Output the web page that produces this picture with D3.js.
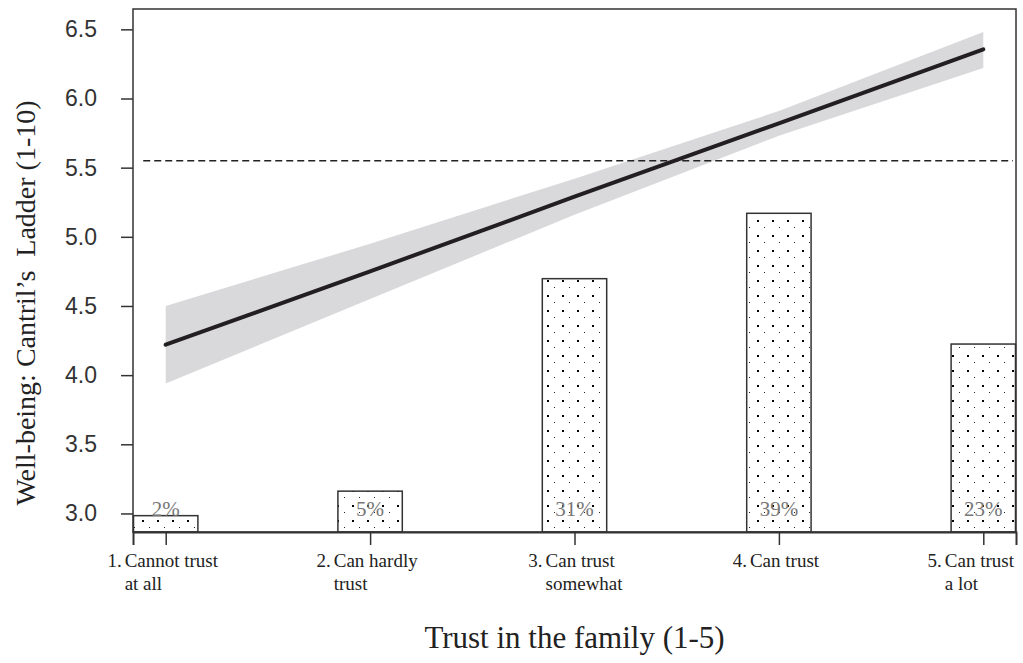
<!DOCTYPE html>
<html>
<head>
<meta charset="utf-8">
<script src="https://cdn.jsdelivr.net/npm/d3@7"></script>
<style>
  html, body { margin: 0; padding: 0; background: #fff; }
  svg { display: block; }
  .serif { font-family: "Liberation Serif", "Times New Roman", serif; }
  .sans { font-family: "Liberation Sans", Arial, sans-serif; }
</style>
</head>
<body>
<svg id="chart" width="1023" height="663"></svg>
<script>
// Trust categories (x axis)
const catX = [1, 2, 3, 4, 5];
const catNum = ["1.", "2.", "3.", "4.", "5."];
const catLine1 = ["Cannot trust", "Can hardly", "Can trust", "Can trust", "Can trust"];
const catLine2 = ["at all", "trust", "somewhat", "", "a lot"];

// Share of respondents in each category (%)
const shares = [2, 5, 31, 39, 23];

// Predicted well-being with confidence band
const fitValues = [4.22, 4.75, 5.29, 5.82, 6.355];
const ciLower = [3.94, 4.55, 5.16, 5.73, 6.22];
const ciUpper = [4.50, 4.95, 5.42, 5.91, 6.48];

// Overall mean (dashed reference line)
const refLevel = 5.55;

// Y axis ticks
const yTicks = [3.0, 3.5, 4.0, 4.5, 5.0, 5.5, 6.0, 6.5];

const W = 1023, H = 663;
const margin = { top: 9, right: 7, bottom: 131, left: 133 };
const iw = W - margin.left - margin.right;
const ih = H - margin.top - margin.bottom;

const svg = d3.select("#chart");

// Dotted fill for the distribution bars
const defs = svg.append("defs");
const pat = defs.append("pattern")
  .attr("id", "dots")
  .attr("patternUnits", "userSpaceOnUse")
  .attr("width", 15).attr("height", 15)
  .attr("x", 9).attr("y", 1);
pat.append("rect").attr("width", 15).attr("height", 15).attr("fill", "#fff");
pat.append("rect").attr("x", 0).attr("y", 0).attr("width", 2).attr("height", 2).attr("fill", "#000");
pat.append("rect").attr("x", 7).attr("y", 7).attr("width", 1).attr("height", 1).attr("fill", "#222");

const g = svg.append("g").attr("transform", `translate(${margin.left},${margin.top})`);

const x = d3.scaleLinear().domain([0.84, 5.16]).range([0, iw]);
const y = d3.scaleLinear().domain([2.866, 6.647]).range([ih, 0]);
// Bar heights: share of respondents, 64% spans the full plot height
const shareScale = d3.scaleLinear().domain([0, 64]).range([ih, 0]);
const barHalf = 0.1575;

// Bars
g.selectAll("rect.bar")
  .data(shares)
  .join("rect")
  .attr("class", "bar")
  .attr("x", (d, i) => x(catX[i] - barHalf))
  .attr("width", (d, i) => x(catX[i] + barHalf) - x(catX[i] - barHalf))
  .attr("y", d => shareScale(d))
  .attr("height", d => ih - shareScale(d))
  .attr("fill", "url(#dots)")
  .attr("stroke", "#333")
  .attr("stroke-width", 1.5);

// Percent labels
g.selectAll("text.pct")
  .data(shares)
  .join("text")
  .attr("class", "pct serif")
  .attr("x", (d, i) => x(catX[i]))
  .attr("y", ih - 16)
  .attr("text-anchor", "middle")
  .attr("font-size", 21)
  .attr("fill", "#777")
  .text(d => d + "%");

// Confidence band
const band = d3.area()
  .x((d, i) => x(catX[i]))
  .y0((d, i) => y(ciLower[i]))
  .y1((d, i) => y(ciUpper[i]));
g.append("path")
  .datum(fitValues)
  .attr("d", band)
  .attr("fill", "#d9d9db");

// Reference line
g.append("line")
  .attr("x1", x(0.89)).attr("x2", x(5.145))
  .attr("y1", y(refLevel)).attr("y2", y(refLevel))
  .attr("stroke", "#222")
  .attr("stroke-width", 1.3)
  .attr("stroke-dasharray", "7,4");

// Fitted line
const line = d3.line()
  .x((d, i) => x(catX[i]))
  .y(d => y(d));
g.append("path")
  .datum(fitValues)
  .attr("d", line)
  .attr("fill", "none")
  .attr("stroke", "#231f20")
  .attr("stroke-width", 4)
  .attr("stroke-linecap", "round");

// Frame
g.append("rect")
  .attr("width", iw).attr("height", ih)
  .attr("fill", "none")
  .attr("stroke", "#333")
  .attr("stroke-width", 1.5);

// Y axis ticks and labels
const yAxis = d3.axisLeft(y)
  .tickValues(yTicks)
  .tickSize(12)
  .tickPadding(24)
  .tickFormat(d3.format(".1f"));
const ya = g.append("g").call(yAxis);
ya.select(".domain").remove();
ya.selectAll(".tick line").attr("stroke", "#333").attr("stroke-width", 1.5);
ya.selectAll(".tick text")
  .attr("class", "sans")
  .attr("font-family", "Liberation Sans, Arial, sans-serif")
  .attr("font-size", 23)
  .attr("fill", "#333");

// X axis ticks
const xAxis = d3.axisBottom(x)
  .tickValues(catX)
  .tickSize(13)
  .tickFormat("");
const xa = g.append("g").attr("transform", `translate(0,${ih})`).call(xAxis);
xa.select(".domain").attr("stroke", "#333").attr("stroke-width", 2);
xa.selectAll(".tick line").attr("stroke", "#333").attr("stroke-width", 1.5);

// X category labels: number, first line, and an indented second line.
// Labels sit slightly left of the tick and never run past the frame.
const xl = g.append("g").attr("transform", `translate(0,${ih})`);
catX.forEach((c, i) => {
  const t1 = xl.append("text")
    .attr("class", "serif")
    .attr("font-size", 19)
    .attr("fill", "#222")
    .attr("y", 35);
  const n = t1.append("tspan").text(catNum[i]);
  t1.append("tspan").attr("dx", 3).text(catLine1[i]);
  const numW = n.node().getComputedTextLength() + 3;
  const totalW = t1.node().getComputedTextLength() + 3;
  const x0 = Math.min(x(c) - totalW / 2 - 3, iw - totalW - 2);
  t1.attr("x", x0);
  if (catLine2[i]) {
    xl.append("text")
      .attr("class", "serif")
      .attr("font-size", 19)
      .attr("fill", "#222")
      .attr("x", x0 + numW)
      .attr("y", 58)
      .text(catLine2[i]);
  }
});

// Axis titles
svg.append("text")
  .attr("class", "serif")
  .attr("font-size", 31)
  .attr("fill", "#222")
  .attr("text-anchor", "middle")
  .attr("x", margin.left + iw / 2)
  .attr("y", 648)
  .text("Trust in the family (1-5)");

svg.append("text")
  .attr("class", "serif")
  .attr("font-size", 28)
  .attr("fill", "#222")
  .attr("text-anchor", "middle")
  .attr("transform", "translate(35,303) rotate(-90)")
  .style("white-space", "pre")
  .text("Well-being: Cantril\u2019s  Ladder (1-10)");
</script>
</body>
</html>
